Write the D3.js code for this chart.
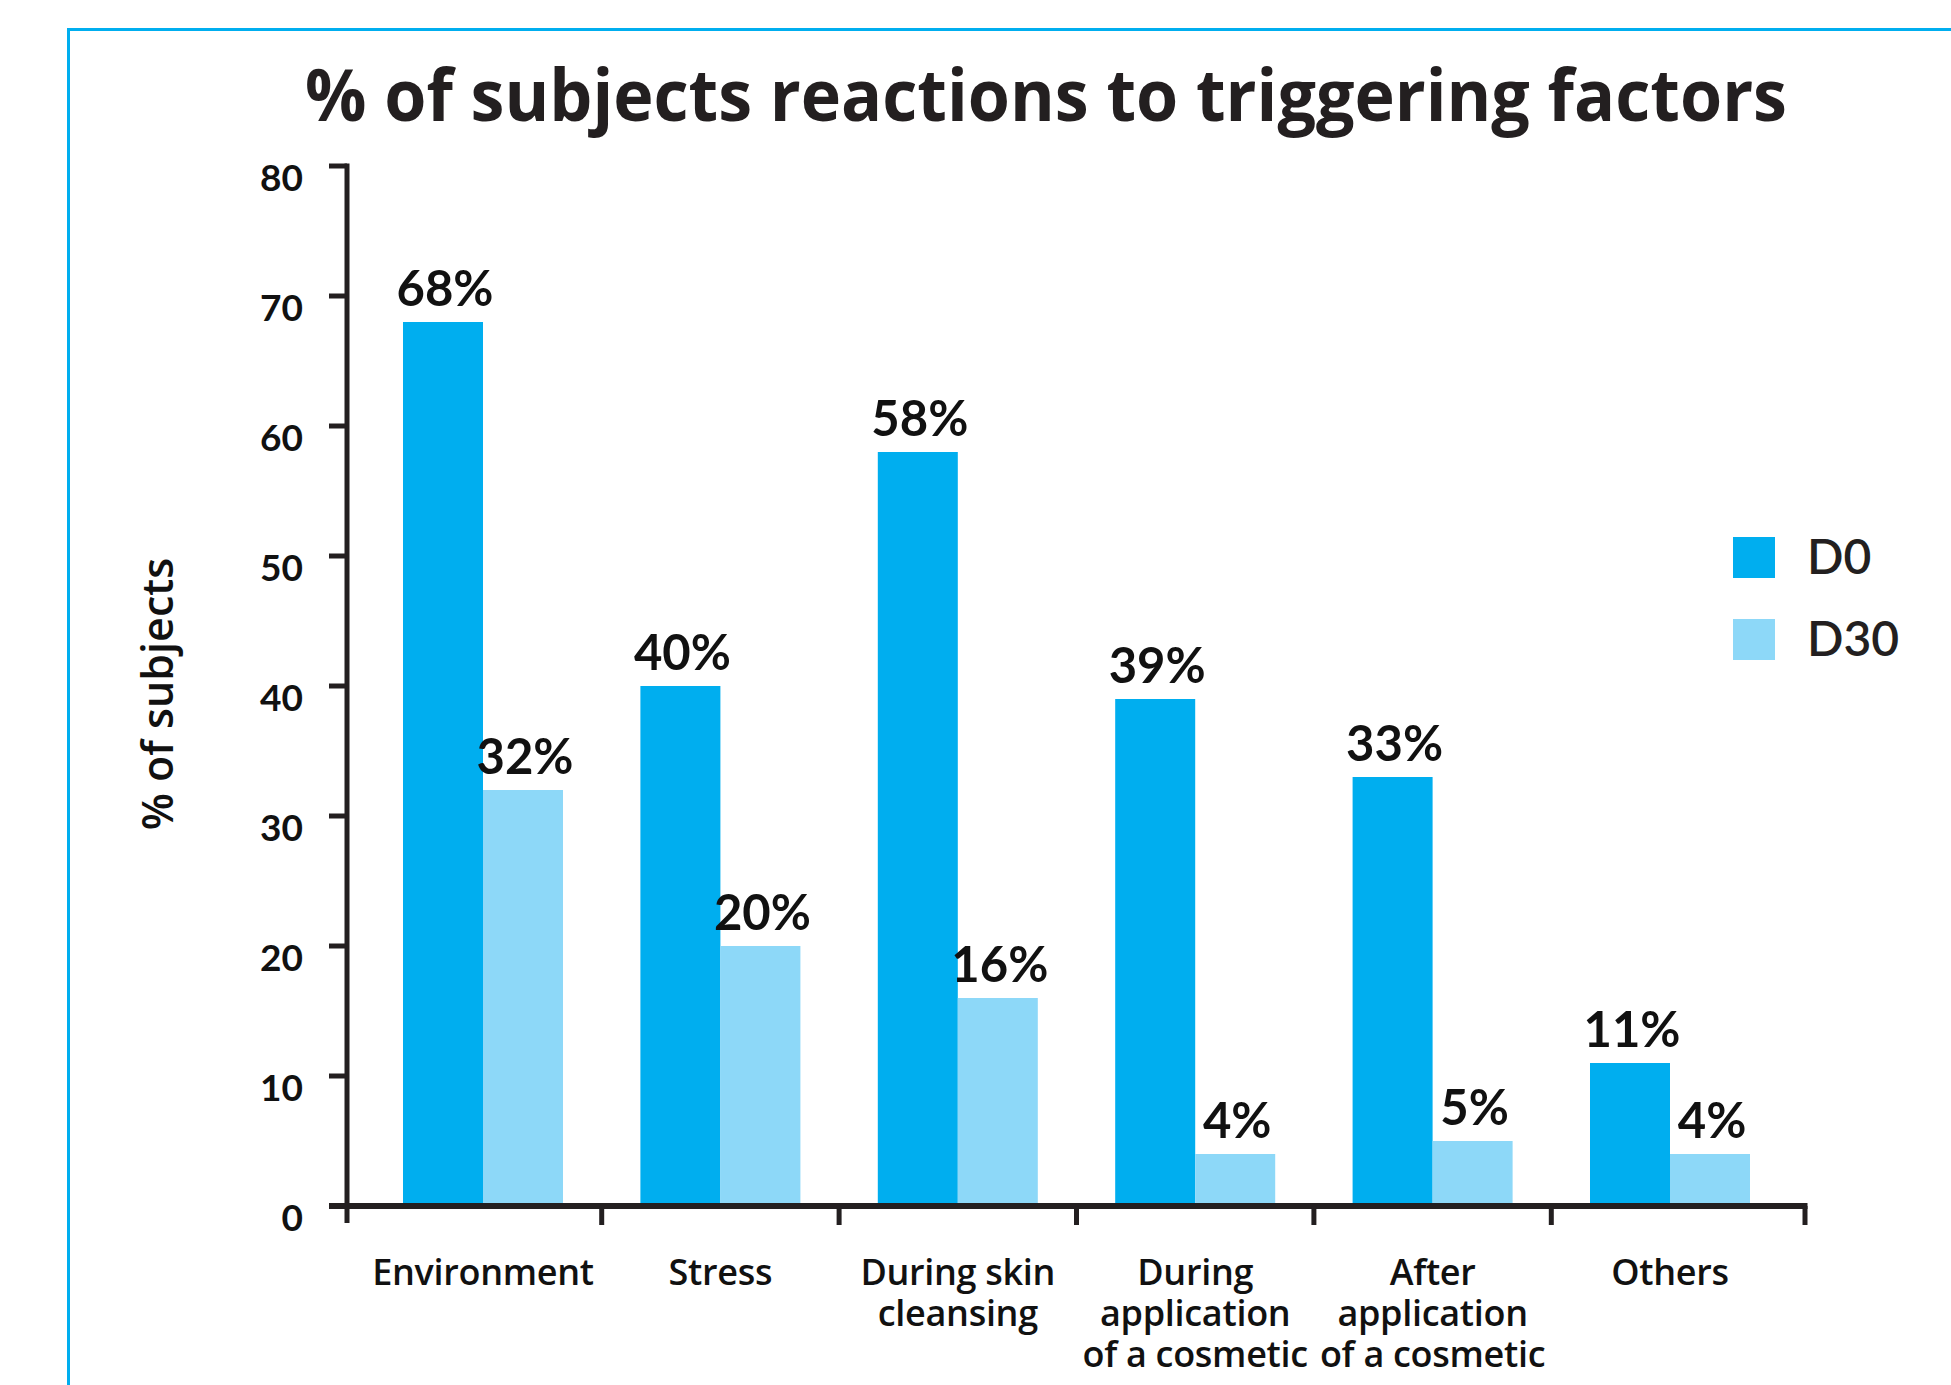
<!DOCTYPE html>
<html>
<head>
<meta charset="utf-8">
<script src="https://cdn.jsdelivr.net/npm/d3@7"></script>
<style>
  html, body { margin: 0; padding: 0; background: #fff; }
  svg { display: block; }
</style>
</head>
<body>
<svg id="chart" width="1951" height="1385"></svg>
<script>
// ---- data ----
const categories = ["Environment", "Stress", "During skin cleansing", "During application of a cosmetic", "After application of a cosmetic", "Others"];
const categoryLines = [["Environment"], ["Stress"], ["During skin", "cleansing"], ["During", "application", "of a cosmetic"], ["After", "application", "of a cosmetic"], ["Others"]];
const seriesNames = ["D0", "D30"];
const d0Values = [68, 40, 58, 39, 33, 11];
const d30Values = [32, 20, 16, 4, 5, 4];
const yTicks = [0, 10, 20, 30, 40, 50, 60, 70, 80];
const titleText = "% of subjects reactions to triggering factors";
const yTitle = "% of subjects";

// ---- styles ----
const colors = { D0: "#00AEEF", D30: "#8DD8F8" };
const ink = "#231F20";

const svg = d3.select("#chart");

// frame
svg.append("path")
  .attr("d", "M68.5,1400 L68.5,29.5 L1960,29.5")
  .attr("fill", "none").attr("stroke", "#00AEEF").attr("stroke-width", 3);

// title
svg.append("text")
  .attr("x", 1046).attr("y", 121)
  .attr("text-anchor", "middle")
  .attr("font-family", "'Open Sans', sans-serif")
  .attr("font-weight", 700)
  .attr("font-size", 72)
  .attr("fill", ink)
  .attr("textLength", 1482)
  .attr("lengthAdjust", "spacingAndGlyphs")
  .text(titleText);

// scales
const axisX = 347, axisEnd = 1805;
const y = d3.scaleLinear().domain([0, 80]).range([1206, 166]);
const x = d3.scaleBand().domain(categories).range([364.3, 1788.7]).padding(0);
const bw = x.bandwidth();
const xs = d3.scaleBand().domain(seriesNames).range([bw * 0.163, bw * 0.837]).padding(0);

const rows = categories.map((c, i) => ({ cat: c, lines: categoryLines[i], D0: d0Values[i], D30: d30Values[i] }));

// bars
const g = svg.append("g");
const groups = g.selectAll("g.grp").data(rows).enter().append("g")
  .attr("transform", d => `translate(${x(d.cat)},0)`);

groups.selectAll("rect").data(d => seriesNames.map(k => ({ key: k, value: d[k] }))).enter()
  .append("rect")
  .attr("x", d => xs(d.key))
  .attr("width", xs.bandwidth())
  .attr("y", d => y(d.value))
  .attr("height", d => y(0) - y(d.value))
  .attr("fill", d => colors[d.key]);

groups.selectAll("text.val").data(d => seriesNames.map(k => ({ key: k, value: d[k] }))).enter()
  .append("text")
  .attr("class", "val")
  .attr("x", d => xs(d.key) + xs.bandwidth() / 2 + 2)
  .attr("y", d => y(d.value) - 16)
  .attr("text-anchor", "middle")
  .attr("font-family", "Lato, sans-serif")
  .attr("font-weight", 700)
  .attr("font-size", 49)
  .attr("fill", "#111")
  .text(d => d.value + "%");

// y axis
const axisG = svg.append("g").attr("stroke", ink).attr("stroke-width", 5).attr("fill", "none");
axisG.append("line").attr("x1", axisX).attr("x2", axisX).attr("y1", y(80) - 2.5).attr("y2", 1223);
axisG.selectAll("line.yt").data(yTicks).enter().append("line")
  .attr("x1", 329).attr("x2", axisX).attr("y1", d => y(d)).attr("y2", d => y(d));

svg.append("g").selectAll("text").data(yTicks).enter().append("text")
  .attr("x", 303).attr("y", d => y(d) + 12)
  .attr("dy", "0.36em")
  .attr("text-anchor", "end")
  .attr("font-family", "Lato, sans-serif")
  .attr("font-weight", 700)
  .attr("font-size", 37)
  .attr("fill", "#111")
  .text(d => d);

// x axis
axisG.append("line").attr("x1", 329).attr("x2", axisEnd + 2.5).attr("y1", y(0)).attr("y2", y(0)).attr("stroke-width", 6);
const xTickPos = categories.slice(1).map(c => x(c)).concat([axisEnd]);
axisG.selectAll("line.xt").data(xTickPos).enter().append("line")
  .attr("x1", d => d).attr("x2", d => d).attr("y1", y(0)).attr("y2", 1225);

// x labels (one text per line)
const xlData = [];
rows.forEach(d => d.lines.forEach((l, i) => xlData.push({ l, i, cx: x(d.cat) + bw / 2 })));
svg.append("g").selectAll("text").data(xlData).enter().append("text")
  .attr("x", d => d.cx)
  .attr("y", d => 1285 + d.i * 41)
  .attr("text-anchor", "middle")
  .attr("font-family", "'Open Sans', sans-serif")
  .attr("font-weight", 600)
  .attr("font-size", 36)
  .attr("letter-spacing", -0.3)
  .attr("fill", "#111")
  .text(d => d.l);

// y title
svg.append("text")
  .attr("transform", "translate(173,694) rotate(-90)")
  .attr("text-anchor", "middle")
  .attr("font-family", "'Open Sans', sans-serif")
  .attr("font-weight", 600)
  .attr("font-size", 43)
  .attr("fill", "#111")
  .text(yTitle);

// legend
const lg = svg.append("g").selectAll("g").data(seriesNames).enter().append("g")
  .attr("transform", (d, i) => `translate(1733,${537 + i * 82})`);
lg.append("rect").attr("width", 42).attr("height", 41).attr("fill", d => colors[d]);
lg.append("text").attr("x", 74).attr("y", 37)
  .attr("font-family", "Lato, sans-serif")
  .attr("font-weight", 600)
  .attr("font-size", 48)
  .attr("fill", ink)
  .text(d => d);
</script>
</body>
</html>
